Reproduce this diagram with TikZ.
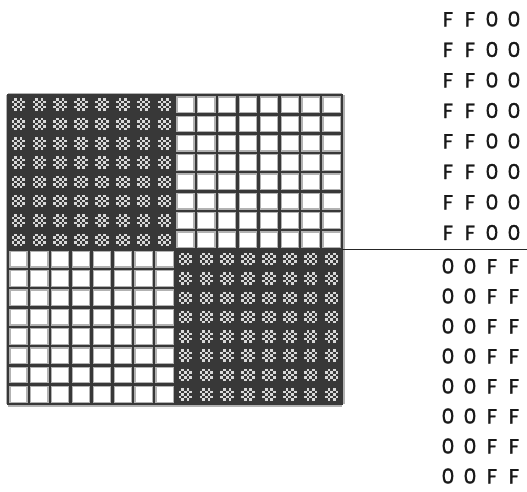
\documentclass[tikz,border=0pt]{standalone}
\usepackage{fontspec}
\newfontfamily\hexfont{Poppins}[FakeBold=1.5]
\usepackage{tikz}
\usetikzlibrary{calc}

\tikzset{
	darkquad/.style={fill=black!78},
	gridline/.style={draw=black!78, line width=2.4pt},
	gridhalo/.style={draw=black!30, line width=5pt},
	dotcell/.style={fill=black!15},
	hexlabel/.style={font=\hexfont\fontsize{20.5}{20.5}\selectfont, inner sep=0pt, text=black!90},
	seprule/.style={draw=black!85, line width=1.5pt}
}
\newcommand{\hexrow}[4]{\makebox[22pt]{#1}\makebox[22pt]{#2}\makebox[22pt]{#3}\makebox[22pt]{#4}}

\begin{document}
\begin{tikzpicture}[x=1pt,y=-1pt]
	\useasboundingbox (0,0) rectangle (527,491);
	\def\cw{20.875}
	\def\ch{19.3125}
	
	\coordinate (tl) at (8,95);
	\coordinate (mid) at (175,249.5);
	\coordinate (br) at (342,404);
	
	% the light cells
	\foreach \k in {0,...,16}{
		\draw[gridhalo] ({8+\k*\cw},95) -- ({8+\k*\cw},404);
		\draw[gridhalo] (8,{95+\k*\ch}) -- (342,{95+\k*\ch});
	}
	\foreach \k in {0,...,16}{
		\draw[gridline] ({8+\k*\cw},95) -- ({8+\k*\cw},404);
		\draw[gridline] (8,{95+\k*\ch}) -- (342,{95+\k*\ch});
	}
	
	% the dark cells
	\fill[darkquad] (tl) rectangle (mid);
	\fill[darkquad] (mid) rectangle (br);
	\foreach \qx/\qy in {0/0,8/8}{
		\foreach \i in {0,...,7}{
			\foreach \j in {0,...,7}{
				\foreach \a/\b in {1/0,3/0,0/1,2/1,4/1,1/2,3/2,0/3,2/3,4/3,1/4,3/4}{
					\fill[dotcell] ({8+(\qx+\i+0.5)*\cw-6.75+\a*2.7},{95+(\qy+\j+0.5)*\ch-6.25+\b*2.5}) rectangle ++(2.7,2.5);
				}
			}
		}
	}
	\draw[gridline] (tl) rectangle (br);
	
	% the bytes
	\foreach \k in {0,...,7}{
		\node[hexlabel] (top\k) at (481,{19+\k*30.5}) {\hexrow{F}{F}{0}{0}};
		\node[hexlabel] (bot\k) at (481,{266+\k*30}) {\hexrow{0}{0}{F}{F}};
	}
	
	\coordinate (sepL) at (342,249.5);
	\coordinate (sepR) at (527,249.5);
	\draw[seprule] (sepL) -- (sepR);
\end{tikzpicture}
\end{document}
